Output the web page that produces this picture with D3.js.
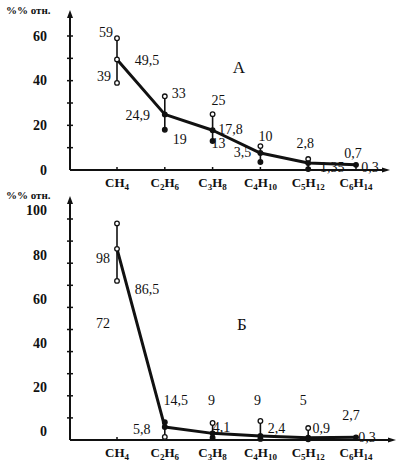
<!DOCTYPE html>
<html><head><meta charset="utf-8">
<script src="https://cdn.jsdelivr.net/npm/d3@7"></script>
<style>body{margin:0;background:#fff}svg{display:block}svg text{font-family:"Liberation Serif","DejaVu Serif",serif !important;fill:#111}</style>
</head><body><svg id="c" width="399" height="466" font-family="Liberation Serif, serif"></svg>
<script>
// ---- data ----
const categories = ["CH4","C2H6","C3H8","C4H10","C5H12","C6H14"];
const yTicksA = [0,20,40,60];
const yTicksB = [0,20,40,60,80,100];
// panel A (А)
const meanA = [49.5, 24.9, 17.8, 7.6, 3.1, 2.3];
const topA  = [59, 33, 25, 10.7, 4.9, 2.3];
const botA  = [39, 18, 13, 3.6, 0.4, 2.3];
const topLabelsA  = ["59","33","25","10","2,8","0,7"];
const meanLabelsA = ["49,5","24,9","17,8","","1,35","0,3"];
const botLabelsA  = ["39","19","13","3,5","",""];
// panel B (Б)
const meanB = [86.5, 5.9, 3.0, 1.8, 1.0, 1.2];
const topB  = [98, 8, 7.7, 8.6, 5.4, 1.2];
const botB  = [72, 1.4, 1.0, 0.5, 0.3, 1.2];
const topLabelsB  = ["98","14,5","9","9","5","2,7"];
const meanLabelsB = ["86,5","5,8","4,1","2,4","0,9","0,3"];
const botLabelsB  = ["72","","","","",""];

// ---- layout (label offsets relative to their anchor point) ----
const offA = {
  top:  [[-11,-6],[14,-3],[6,-14],[5,-10],[-3,-16],[-3,-12]],
  mean: [[30,1],[-27,1],[18,-1],[0,0],[24,4],[14,2]],
  bot:  [[-13,-7],[15,9],[6,2],[-18,-10],[0,0],[0,0]]
};
const offB = {
  top:  [[-14,35],[11,-22],[-1,-23],[-3,-21],[-5,-28],[-5,-22]],
  mean: [[30,40],[-23,2],[9,-6],[16,-8],[13,-10],[11,0]],
  bot:  [[-14,42],[0,0],[0,0],[0,0],[0,0],[0,0]]
};

const svg = d3.select("#c");
svg.append("rect").attr("width",399).attr("height",466).attr("fill","#fff");

function formula(sel, s){
  const parts = s.match(/[A-Z][a-z]?|\d+/g);
  let sub = false;
  parts.forEach(p=>{
    if(/\d/.test(p)) { sel.append("tspan").attr("font-size","9px").attr("dy","3").text(p); sub = true; }
    else { const t = sel.append("tspan").text(p); if(sub) t.attr("dy","-3"); sub = false; }
  });
}

function panel(cfg){
  const g = svg.append("g");
  const x = d3.scalePoint().domain(categories).range([117,356]);
  const y = d3.scaleLinear().domain([0,cfg.max]).range([cfg.y0, cfg.yMaxPx]);
  const axX = 70;
  // y axis
  g.append("line").attr("x1",axX).attr("x2",axX).attr("y1",cfg.y0).attr("y2",cfg.yTop+4)
    .attr("stroke","#111").attr("stroke-width",2);
  g.append("path").attr("d",`M${axX-3},${cfg.yTop+8}L${axX},${cfg.yTop}L${axX+3},${cfg.yTop+8}Z`).attr("fill","#111");
  const minor = d3.range(10, cfg.max+1, 10);
  g.selectAll(".mt").data(minor).join("line")
    .attr("x1",axX-3).attr("x2",axX+3).attr("y1",d=>y(d)).attr("y2",d=>y(d))
    .attr("stroke","#111").attr("stroke-width",1.5);
  const ax = d3.axisLeft(y).tickValues(cfg.ticks).tickSize(0).tickPadding(0).tickFormat(d3.format("d"));
  const ag = g.append("g").attr("transform",`translate(47,0)`).call(ax);
  ag.attr("font-family",null).attr("font-size",null);
  ag.select(".domain").remove();
  ag.selectAll("text").attr("font-size","14px").attr("font-weight","bold")
    .attr("dy", cfg.labelDy).attr("fill","#111");
  // x axis
  g.append("line").attr("x1",axX).attr("x2",cfg.xEnd-6).attr("y1",cfg.y0).attr("y2",cfg.y0)
    .attr("stroke","#111").attr("stroke-width",2);
  g.append("path").attr("d",`M${cfg.xEnd-8},${cfg.y0-2.5}L${cfg.xEnd},${cfg.y0}L${cfg.xEnd-8},${cfg.y0+2.5}Z`).attr("fill","#111");
  g.selectAll(".xt").data(categories).join("line")
    .attr("x1",d=>x(d)).attr("x2",d=>x(d)).attr("y1",cfg.y0-3).attr("y2",cfg.y0)
    .attr("stroke","#111").attr("stroke-width",1.5);
  g.selectAll(".xl").data(categories).join("text")
    .attr("x",d=>x(d)).attr("y",cfg.y0+17).attr("text-anchor","middle")
    .attr("font-size","13px").attr("font-weight","bold")
    .each(function(d){ formula(d3.select(this), d); });
  // y title
  g.append("text").attr("x",6).attr("y",cfg.titleY).attr("font-size","11px").attr("font-weight","bold").text("%% отн.");
  // panel letter
  g.append("text").attr("x",cfg.letterX).attr("y",cfg.letterY).attr("text-anchor","middle")
    .attr("font-size","17px").text(cfg.letter);
  // error bars
  const idx = d3.range(categories.length);
  g.selectAll(".eb").data(idx.filter(i=>cfg.top[i]!==cfg.bot[i])).join("line")
    .attr("x1",i=>x(categories[i])).attr("x2",i=>x(categories[i]))
    .attr("y1",i=>y(cfg.top[i])).attr("y2",i=>y(cfg.bot[i]))
    .attr("stroke","#111").attr("stroke-width",1.6);
  // main line
  const line = d3.line().x((d,i)=>x(categories[i])).y(d=>y(d));
  g.append("path").datum(cfg.mean).attr("d",line).attr("fill","none")
    .attr("stroke","#111").attr("stroke-width",3).attr("stroke-linejoin","round");
  // markers
  function marks(vals, openFn, cls){
    g.selectAll("."+cls).data(idx.filter(i=>!(cls!=="mm" && cfg.top[i]===cfg.bot[i]))).join("circle")
      .attr("cx",i=>x(categories[i])).attr("cy",i=>y(vals[i])).attr("r",2.3)
      .attr("fill",i=>openFn(i)?"#fff":"#111").attr("stroke","#111").attr("stroke-width",1.3);
  }
  marks(cfg.top, cfg.topOpen, "tm");
  marks(cfg.bot, cfg.botOpen, "bm");
  marks(cfg.mean, cfg.meanOpen, "mm");
  // labels
  function labels(vals, texts, offs, cls){
    g.selectAll("."+cls).data(idx.filter(i=>texts[i]!=="")).join("text")
      .attr("x",i=>x(categories[i])+offs[i][0]).attr("y",i=>y(vals[i])+offs[i][1]+5)
      .attr("text-anchor","middle").attr("font-size","14px").text(i=>texts[i]);
  }
  labels(cfg.top, cfg.topLabels, cfg.off.top, "tl");
  labels(cfg.mean, cfg.meanLabels, cfg.off.mean, "ml");
  labels(cfg.bot, cfg.botLabels, cfg.off.bot, "bl");
}

panel({max:60, ticks:yTicksA, y0:170, yMaxPx:36, yTop:10, xEnd:390, labelDy:"0.3em",
  titleY:14, letter:"А", letterX:239, letterY:73,
  mean:meanA, top:topA, bot:botA, topLabels:topLabelsA, meanLabels:meanLabelsA, botLabels:botLabelsA, off:offA,
  topOpen:i=>true, botOpen:i=>i===0, meanOpen:i=>i===0});
panel({max:100, ticks:yTicksB, y0:440, yMaxPx:219, yTop:196, xEnd:396, labelDy:"-0.3em",
  titleY:199, letter:"Б", letterX:242, letterY:330,
  mean:meanB, top:topB, bot:botB, topLabels:topLabelsB, meanLabels:meanLabelsB, botLabels:botLabelsB, off:offB,
  topOpen:i=>i!==1, botOpen:i=>i<=1, meanOpen:i=>i===0});
</script></body></html>
